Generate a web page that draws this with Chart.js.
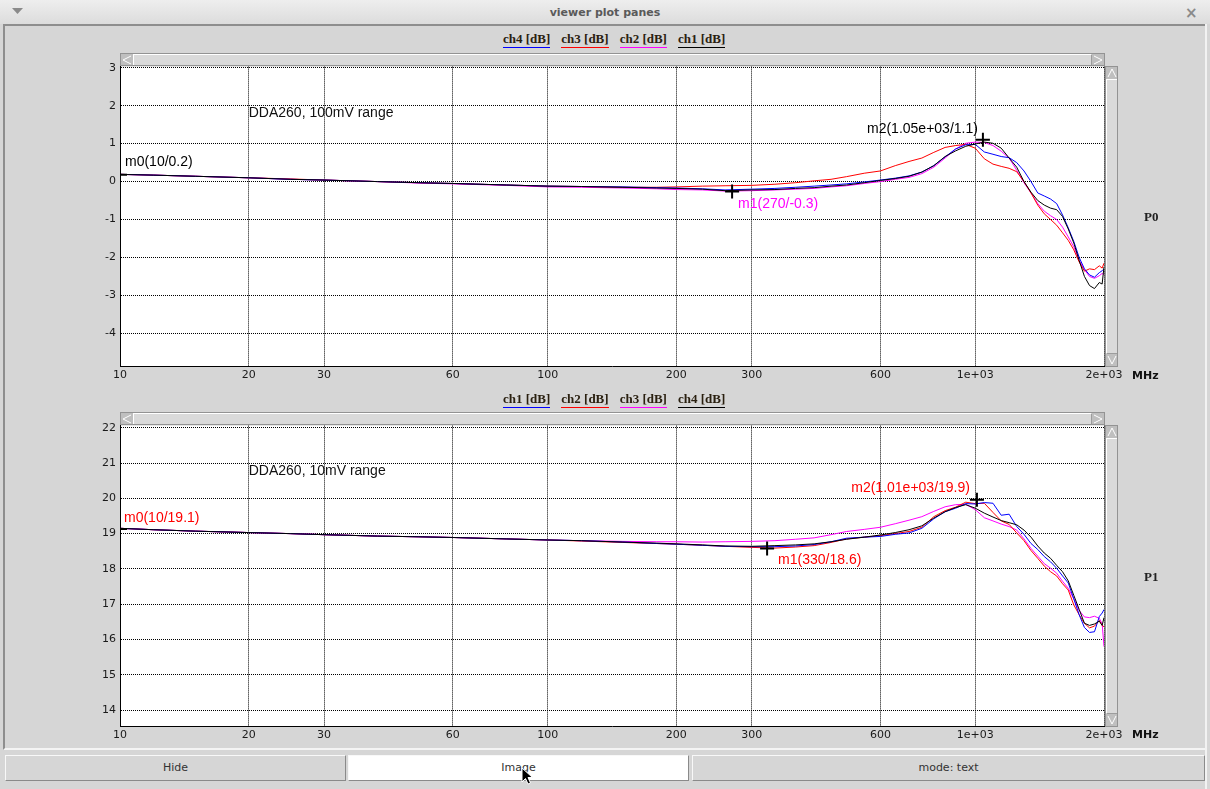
<!DOCTYPE html>
<html>
<head>
<meta charset="utf-8">
<script src="https://cdn.jsdelivr.net/npm/chart.js@4.4.1/dist/chart.umd.min.js"></script>
<style>
  body { margin:0; width:1210px; height:789px; overflow:hidden; background:#d6d6d6; position:relative; font-family:"DejaVu Sans", sans-serif; }
  .abs { position:absolute; }
  #titlebar { left:0; top:0; width:1210px; height:24px; background:linear-gradient(#eeeeee,#dcdcdc); }
  #title { left:0; top:6px; width:1210px; text-align:center; font:bold 11px "DejaVu Sans"; color:#5a5a5a; }
  #frame { left:3px; top:24px; width:1202px; height:722px; border-top:2px solid #8e8e8e; border-left:2px solid #8e8e8e; border-bottom:2px solid #f4f4f4; }
  #rightedge { left:1205px; top:24px; width:2px; height:765px; background:#f2f2f2; }
  .tabs { display:flex; gap:11px; font:bold 13px "Liberation Serif"; color:#2a2010; }
  .tab { border-bottom:1px solid; line-height:14px; padding-bottom:1px; }
  .pname { font:bold 13px "Liberation Serif"; color:#222; }
  .unit { font:bold 11px "DejaVu Sans"; color:#111; }
  .hs, .vs { position:absolute; box-sizing:border-box; background:#bfbfbf; border:1px solid #939393; }
  .hs .th { position:absolute; left:12px; right:12px; top:0; bottom:0; background:#dadada; border-top:1px solid #fff; border-left:1px solid #fff; border-right:1px solid #9c9c9c; }
  .vs .th { position:absolute; top:12px; bottom:12px; left:0; right:0; background:#dadada; border-top:1px solid #fff; border-left:1px solid #fff; border-bottom:1px solid #9c9c9c; }
  .btn { position:absolute; top:755px; height:26px; box-sizing:border-box; border-top:1px solid #f8f8f8; border-left:1px solid #f8f8f8; border-right:1px solid #8a8a8a; border-bottom:1px solid #8a8a8a; background:#d6d6d6; font:11px "DejaVu Sans"; color:#333; text-align:center; line-height:24px; }
  canvas { position:absolute; left:0; }
</style>
</head>
<body>
<div id="titlebar" class="abs"></div>
<svg class="abs" style="left:12px;top:8px" width="12" height="8"><polygon points="0,0 11,0 5.5,6" fill="#8a8a8a"/></svg>
<div id="title" class="abs">viewer plot panes</div>
<div class="abs" style="left:1185px;top:4px;font:bold 15px 'DejaVu Sans';color:#8a8a8a">×</div>
<div id="frame" class="abs"></div>
<div id="rightedge" class="abs"></div>

<canvas id="p0" width="1210" height="340" style="top:56px"></canvas>
<canvas id="p1" width="1210" height="340" style="top:415px"></canvas>

<div id="chrome"></div>

<div class="btn" style="left:5px;width:341px">Hide</div>
<div class="btn" style="left:348px;width:341px;background:#fff">Image</div>
<div class="btn" style="left:692px;width:513px">mode: text</div>
<svg class="abs" style="left:521px;top:767px" width="14" height="20"><polygon points="1,1 1,15 4.5,11.5 7,17 9.5,16 7,10.5 11.5,10.5" fill="#000" stroke="#fff" stroke-width="1"/></svg>

<script>
// frequency axis (MHz) shared by every trace
const freqMHz = [10, 12, 15, 20, 25, 30, 40, 50, 60, 80,
  100, 120, 150, 180, 200, 230, 260, 300, 340, 380,
  420, 460, 500, 550, 600, 650, 700, 750, 800, 850,
  900, 950, 1000, 1050, 1100, 1150, 1200, 1250, 1300, 1350,
  1400, 1450, 1500, 1550, 1600, 1650, 1700, 1750, 1800, 1850,
  1900, 1950, 1980, 2000];

const xTickValues = [10, 20, 30, 60, 100, 200, 300, 600, 1000, 2000];
const xTickLabels = ['10', '20', '30', '60', '100', '200', '300', '600', '1e+03', '2e+03'];
const p0TickValues = [3, 2, 1, 0, -1, -2, -3, -4];
const p1TickValues = [22, 21, 20, 19, 18, 17, 16, 15, 14];

// pane P0 : DDA260, 100mV range  (dB)
const p0Legend = ['ch4 [dB]', 'ch3 [dB]', 'ch2 [dB]', 'ch1 [dB]'];
const p0Ch1 = [0.19, 0.17, 0.14, 0.10, 0.06, 0.04, 0.00, -0.03, -0.05, -0.09,
  -0.12, -0.13, -0.15, -0.17, -0.18, -0.20, -0.24, -0.22, -0.21, -0.18,
  -0.16, -0.12, -0.09, -0.03, 0.03, 0.08, 0.14, 0.25, 0.42, 0.66,
  0.81, 0.93, 0.99, 1.04, 1.01, 0.88, 0.62, 0.38, 0.00, -0.28,
  -0.50, -0.62, -0.70, -0.74, -0.92, -1.25, -1.62, -2.08, -2.50, -2.74,
  -2.82, -2.66, -2.70, -2.25];
const p0Ch2 = [0.19, 0.17, 0.14, 0.10, 0.06, 0.04, 0.00, -0.04, -0.06, -0.10,
  -0.14, -0.15, -0.17, -0.19, -0.21, -0.22, -0.25, -0.24, -0.22, -0.20,
  -0.18, -0.14, -0.11, -0.05, 0.00, 0.06, 0.11, 0.21, 0.38, 0.62,
  0.86, 1.01, 1.04, 1.03, 0.95, 0.80, 0.62, 0.30, -0.03, -0.30,
  -0.58, -0.78, -0.90, -1.00, -1.20, -1.46, -1.72, -2.08, -2.32, -2.50,
  -2.55, -2.48, -2.42, -2.45];
const p0Ch3 = [0.19, 0.17, 0.14, 0.10, 0.07, 0.04, 0.00, -0.03, -0.05, -0.09,
  -0.12, -0.13, -0.15, -0.15, -0.14, -0.12, -0.11, -0.10, -0.07, -0.03,
  0.02, 0.06, 0.13, 0.22, 0.28, 0.42, 0.53, 0.62, 0.77, 0.90,
  0.95, 0.98, 0.88, 0.60, 0.46, 0.40, 0.35, 0.26, 0.00, -0.30,
  -0.62, -0.85, -1.00, -1.15, -1.35, -1.55, -1.80, -2.12, -2.36, -2.30,
  -2.32, -2.22, -2.28, -2.15];
const p0Ch4 = [0.19, 0.17, 0.14, 0.10, 0.06, 0.04, 0.00, -0.03, -0.05, -0.09,
  -0.12, -0.13, -0.14, -0.16, -0.17, -0.19, -0.22, -0.20, -0.18, -0.15,
  -0.12, -0.09, -0.06, -0.01, 0.04, 0.09, 0.15, 0.25, 0.42, 0.65,
  0.86, 0.97, 0.98, 0.78, 0.72, 0.66, 0.63, 0.50, 0.28, 0.00,
  -0.30, -0.38, -0.46, -0.58, -0.88, -1.22, -1.58, -2.00, -2.30, -2.46,
  -2.52, -2.40, -2.35, -2.30];
const p0MarkerFreq = [10, 270, 1042];
const p0MarkerDb = [0.18, -0.26, 1.1];
const p0MarkerText = ['m0(10/0.2)', 'm1(270/-0.3)', 'm2(1.05e+03/1.1)'];

// pane P1 : DDA260, 10mV range  (dB)
const p1Legend = ['ch1 [dB]', 'ch2 [dB]', 'ch3 [dB]', 'ch4 [dB]'];
const p1Ch1 = [19.15, 19.11, 19.07, 19.03, 19.00, 18.97, 18.93, 18.91, 18.89, 18.85,
  18.82, 18.80, 18.76, 18.72, 18.70, 18.67, 18.64, 18.63, 18.63, 18.65,
  18.69, 18.77, 18.87, 18.90, 18.92, 18.98, 19.02, 19.15, 19.42, 19.62,
  19.72, 19.85, 19.84, 19.88, 19.86, 19.52, 19.55, 19.20, 18.98, 18.72,
  18.55, 18.35, 18.20, 18.02, 17.80, 17.60, 17.15, 16.70, 16.34, 16.20,
  16.22, 16.65, 16.75, 16.85];
const p1Ch2 = [19.15, 19.11, 19.07, 19.03, 19.00, 18.97, 18.93, 18.91, 18.89, 18.85,
  18.82, 18.79, 18.75, 18.72, 18.70, 18.67, 18.64, 18.61, 18.59, 18.62,
  18.66, 18.75, 18.85, 18.90, 18.94, 19.00, 19.06, 19.18, 19.48, 19.65,
  19.75, 19.89, 19.85, 19.86, 19.60, 19.36, 19.26, 19.02, 18.80, 18.52,
  18.30, 18.08, 17.92, 17.80, 17.58, 17.40, 16.98, 16.70, 16.46, 16.33,
  16.38, 16.54, 16.40, 16.36];
const p1Ch3 = [19.15, 19.11, 19.07, 19.03, 19.00, 18.97, 18.93, 18.91, 18.89, 18.85,
  18.82, 18.80, 18.78, 18.77, 18.77, 18.76, 18.77, 18.78, 18.80, 18.84,
  18.88, 18.97, 19.06, 19.12, 19.18, 19.28, 19.38, 19.48, 19.63, 19.76,
  19.82, 19.83, 19.68, 19.45, 19.36, 19.27, 19.20, 19.10, 18.85, 18.58,
  18.36, 18.15, 18.02, 17.88, 17.65, 17.45, 17.15, 16.82, 16.64, 16.62,
  16.66, 16.60, 16.45, 15.80];
const p1Ch4 = [19.15, 19.11, 19.07, 19.03, 19.00, 18.97, 18.93, 18.91, 18.89, 18.85,
  18.82, 18.80, 18.76, 18.73, 18.71, 18.68, 18.65, 18.64, 18.66, 18.68,
  18.71, 18.77, 18.84, 18.90, 18.96, 19.03, 19.11, 19.22, 19.44, 19.62,
  19.74, 19.82, 19.72, 19.58, 19.47, 19.37, 19.31, 19.25, 19.10, 18.90,
  18.65, 18.45, 18.30, 18.10, 17.92, 17.66, 17.25, 16.85, 16.46, 16.40,
  16.44, 16.52, 16.40, 16.62];
const p1MarkerFreq = [10, 326, 1009];
const p1MarkerDb = [19.13, 18.58, 19.96];
const p1MarkerText = ['m0(10/19.1)', 'm1(330/18.6)', 'm2(1.01e+03/19.9)'];

const BLUE = '#0000ff', RED = '#ff0000', MAGENTA = '#ff00ff', BLACK = '#000000';
const TICK_FONT = { family: 'DejaVu Sans', size: 11 };
const LABEL_FONT = '14px "Liberation Sans"';

const toXY = (arr) => freqMHz.map((f, i) => ({ x: f, y: arr[i] }));

function trace(label, values, color) {
    return {
        label: label,
        data: toXY(values),
        borderColor: color,
        borderWidth: 1,
        pointRadius: 0,
        tension: 0,
        fill: false
    };
}

// white plot background + marker captions + pane note
function paneDecor(cfg) {
    return {
        id: 'paneDecor',
        beforeDraw(chart) {
            const a = chart.chartArea;
            const ctx = chart.ctx;
            ctx.save();
            ctx.fillStyle = '#ffffff';
            ctx.fillRect(a.left, a.top, a.right - a.left, a.bottom - a.top);
            ctx.restore();
        },
        afterDatasetsDraw(chart) {
            const ctx = chart.ctx;
            const x = chart.scales.x, y = chart.scales.y;
            ctx.save();
            ctx.font = LABEL_FONT;
            ctx.textBaseline = 'middle';
            cfg.markerFreq.forEach((f, i) => {
                const p = cfg.place[i];
                ctx.fillStyle = cfg.markerColors[i];
                ctx.textAlign = p.align;
                ctx.fillText(cfg.markerText[i], x.getPixelForValue(f) + p.dx, y.getPixelForValue(cfg.markerDb[i]) + p.dy);
            });
            ctx.fillStyle = '#111';
            ctx.textAlign = 'left';
            ctx.fillText(cfg.note, x.getPixelForValue(cfg.noteAt[0]), y.getPixelForValue(cfg.noteAt[1]));
            ctx.restore();
        }
    };
}

function makePane(id, cfg) {
    const datasets = cfg.traces.map(t => trace(t[0], t[1], t[2]));
    datasets.unshift({
        label: 'markers',
        data: cfg.markerFreq.map((f, i) => ({ x: f, y: cfg.markerDb[i] })),
        showLine: false,
        pointStyle: 'cross',
        pointRadius: 7,
        pointBorderWidth: 2,
        borderColor: BLACK,
        backgroundColor: BLACK,
        clip: 0
    });
    return new Chart(document.getElementById(id), {
        type: 'line',
        data: { datasets: datasets },
        plugins: [paneDecor(cfg)],
        options: {
            responsive: false,
            animation: false,
            events: [],
            layout: { padding: { left: 80, right: 106, top: 10, bottom: cfg.padBottom } },
            plugins: { legend: { display: false }, tooltip: { enabled: false } },
            scales: {
                x: {
                    type: 'logarithmic',
                    min: 10, max: 2000,
                    bounds: 'data',
                    afterBuildTicks: s => { s.ticks = xTickValues.map(v => ({ value: v })); },
                    afterFit: s => { s.height = 20; },
                    ticks: { callback: (v, i) => xTickLabels[i], font: TICK_FONT, color: '#1a1a1a', padding: 3, maxRotation: 0, autoSkip: false },
                    grid: { color: BLACK, lineWidth: 1, drawTicks: false },
                    border: { color: BLACK, width: 1, dash: [1, 1] }
                },
                y: {
                    type: 'linear',
                    min: cfg.yMin, max: cfg.yMax,
                    bounds: 'data',
                    afterBuildTicks: s => { s.ticks = cfg.yTicks.map(v => ({ value: v })); },
                    afterFit: s => { s.width = 40; },
                    ticks: { callback: v => String(v), font: TICK_FONT, color: '#1a1a1a', padding: 4, autoSkip: false },
                    grid: { color: BLACK, lineWidth: 1, drawTicks: false },
                    border: { color: BLACK, width: 1, dash: [1, 1] }
                }
            }
        }
    });
}

makePane('p0', {
    yMin: -4.86, yMax: 3.03, yTicks: p0TickValues, padBottom: 10,
    traces: [['ch1 [dB]', p0Ch1, BLACK], ['ch4 [dB]', p0Ch4, BLUE], ['ch3 [dB]', p0Ch3, RED], ['ch2 [dB]', p0Ch2, MAGENTA]],
    markerFreq: p0MarkerFreq, markerDb: p0MarkerDb, markerText: p0MarkerText,
    markerColors: [BLACK, MAGENTA, BLACK],
    place: [{ align: 'left', dx: 5, dy: -13 }, { align: 'left', dx: 6, dy: 13 }, { align: 'right', dx: -5, dy: -11 }],
    note: 'DDA260, 100mV range', noteAt: [20, 1.8]
});

makePane('p1', {
    yMin: 13.55, yMax: 22.06, yTicks: p1TickValues, padBottom: 9,
    traces: [['ch4 [dB]', p1Ch4, BLACK], ['ch1 [dB]', p1Ch1, BLUE], ['ch2 [dB]', p1Ch2, RED], ['ch3 [dB]', p1Ch3, MAGENTA]],
    markerFreq: p1MarkerFreq, markerDb: p1MarkerDb, markerText: p1MarkerText,
    markerColors: [RED, RED, RED],
    place: [{ align: 'left', dx: 4, dy: -11 }, { align: 'left', dx: 11, dy: 12 }, { align: 'right', dx: -7, dy: -12 }],
    note: 'DDA260, 10mV range', noteAt: [20, 20.78]
});

// window chrome: channel tabs, scrollbars, pane names, unit labels
const chrome = document.getElementById('chrome');
function add(html) { chrome.insertAdjacentHTML('beforeend', html); }

function tabs(top, names, colors) {
    const spans = names.map((n, i) => `<span class="tab" style="border-color:${colors[i]}">${n}</span>`).join('');
    add(`<div class="abs tabs" style="left:503px;top:${top}px">${spans}</div>`);
}
tabs(32, p0Legend, [BLUE, RED, MAGENTA, BLACK]);
tabs(392, p1Legend, [BLUE, RED, MAGENTA, BLACK]);

function scrollbars(plotTop, plotBottom) {
    add(`<div class="hs" style="left:120px;top:${plotTop - 13}px;width:985px;height:13px"><div class="th"></div>
      <svg class="abs" style="left:1px;top:1px" width="10" height="10"><polyline points="9,1 1,5 9,9" fill="none" stroke="#fff"/></svg>
      <svg class="abs" style="right:1px;top:1px" width="10" height="10"><polyline points="1,1 9,5 1,9" fill="none" stroke="#fff"/></svg></div>`);
    add(`<div class="vs" style="left:1105px;top:${plotTop}px;width:13px;height:${plotBottom - plotTop + 1}px"><div class="th"></div>
      <svg class="abs" style="left:1px;top:1px" width="10" height="10"><polyline points="1,9 5,1 9,9" fill="none" stroke="#fff"/></svg>
      <svg class="abs" style="left:1px;bottom:1px" width="10" height="10"><polyline points="1,1 5,9 9,1" fill="none" stroke="#fff"/></svg></div>`);
}
scrollbars(66, 366);
scrollbars(425, 726);

add('<div class="abs pname" style="left:1144px;top:209px">P0</div>');
add('<div class="abs pname" style="left:1144px;top:569px">P1</div>');
add('<div class="abs unit" style="left:1132px;top:369px">MHz</div>');
add('<div class="abs unit" style="left:1132px;top:728px">MHz</div>');
</script>
</body>
</html>
